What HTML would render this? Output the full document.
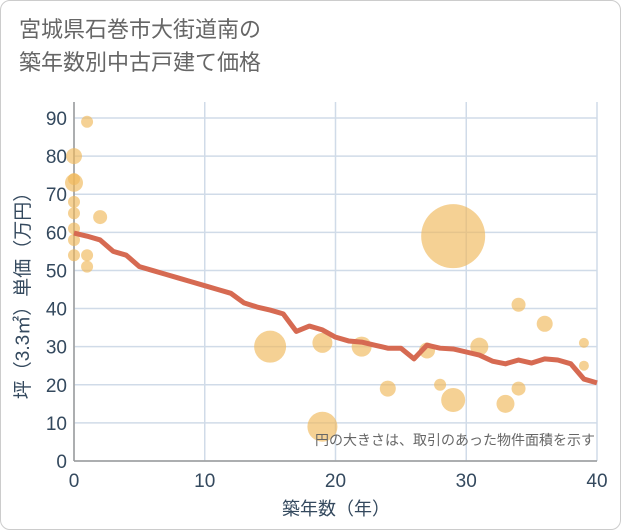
<!DOCTYPE html>
<html><head><meta charset="utf-8"><style>
body{margin:0;background:#fff;}
#wrap{position:relative;width:619px;height:528px;border:1px solid #ccc;border-radius:10px;overflow:hidden;font-family:"Liberation Sans","Noto Sans CJK JP",sans-serif;}
h1{position:absolute;left:18px;top:12px;margin:0;font-weight:normal;font-size:22px;line-height:33px;color:#666;}
</style></head><body>
<div id="wrap">
<h1>宮城県石巻市大街道南の<br>築年数別中古戸建て価格</h1>
<svg id="chart" width="621" height="530" style="position:absolute;left:0;top:0"></svg>
</div>
<script>
const xTicks=[0,10,20,30,40];
const yTicks=[0,10,20,30,40,50,60,70,80,90];
const lineYears=[0,1,2,3,4,5,6,7,8,9,10,11,12,13,14,15,16,17,18,19,20,21,22,23,24,25,26,27,28,29,30,31,32,33,34,35,36,37,38,39,40];
const linePrices=[59.8,59,58,55,54,51,50,49,48,47,46,45,44,41.5,40.4,39.6,38.6,34,35.4,34.4,32.5,31.5,31.2,30.4,29.6,29.6,26.8,30.4,29.6,29.4,28.6,27.8,26.2,25.5,26.5,25.7,26.8,26.5,25.5,21.5,20.5];
const bubbleYears=[1,0,0,0,0,0,2,0,0,0,1,1,15,19,22,19,24,27,28,29,29,31,33,34,34,36,39,39];
const bubblePrices=[89,80,74,73,68,65,64,61,58,54,54,51,30,31,30,9,19,29,20,59,16,30,15,41,19,36,31,25];
const bubbleSizes=[6,8,6,9,6,6,7,6,6,6,6,6,16,10,10,15,8,8,6,32,12,9,9,7,7,8,5,5];
const svg=document.getElementById('chart');
const NS='http://www.w3.org/2000/svg';
const X0=73,X1=596,Y0=460,Y1=117;
const xs=v=>X0+(v-0)/40*(X1-X0);
const ys=v=>Y0-v/90*(Y0-Y1);
function mk(t,a){const e=document.createElementNS(NS,t);for(const k in a)e.setAttribute(k,a[k]);svg.appendChild(e);return e;}
const plot=mk('rect',{x:X0,y:101,width:X1-X0,height:Y0-101,fill:'#fff'});


yTicks.forEach(v=>{
 const g=mk('line',{x1:X0,x2:X1,y1:ys(v),y2:ys(v),stroke:'#d0dbe8','stroke-width':1.5});
 
 
 const t=mk('text',{x:66,y:ys(v)+7,'text-anchor':'end','font-size':19,fill:'#34495e'});
 t.textContent=v;
 
 
});
xTicks.forEach(v=>{
 const g=mk('line',{x1:xs(v),x2:xs(v),y1:101,y2:Y0,stroke:'#d0dbe8','stroke-width':1.5});
 
 
 const t=mk('text',{x:xs(v),y:486,'text-anchor':'middle','font-size':19,fill:'#34495e'});
 t.textContent=v;
 
 
});
const ax=mk('line',{x1:X0,x2:X0,y1:101,y2:Y0,stroke:'#999','stroke-width':1.5});


const ax2=mk('line',{x1:X0,x2:X1,y1:Y0,y2:Y0,stroke:'#999','stroke-width':1.5});


bubbleYears.forEach((v,i)=>{
 const c=mk('circle',{cx:xs(v),cy:ys(bubblePrices[i]),r:bubbleSizes[i],fill:'#f0b95a','fill-opacity':0.65});
 
 
});
const pl=mk('polyline',{points:lineYears.map((v,i)=>xs(v)+','+ys(linePrices[i])).join(' '),fill:'none',stroke:'#d66a52','stroke-width':5,'stroke-linejoin':'round'});


const note=mk('text',{x:594,y:444,'text-anchor':'end','font-size':14,fill:'#666'});
note.textContent='円の大きさは、取引のあった物件面積を示す';


const xt=mk('text',{x:335,y:514,'text-anchor':'middle','font-size':18,fill:'#34495e'});
xt.textContent='築年数（年）';


const yt=mk('text',{x:0,y:0,'text-anchor':'middle','font-size':19,fill:'#34495e',transform:'translate(28,290) rotate(-90)'});
yt.textContent='坪（3.3㎡）単価（万円）';


</script>
</body></html>
